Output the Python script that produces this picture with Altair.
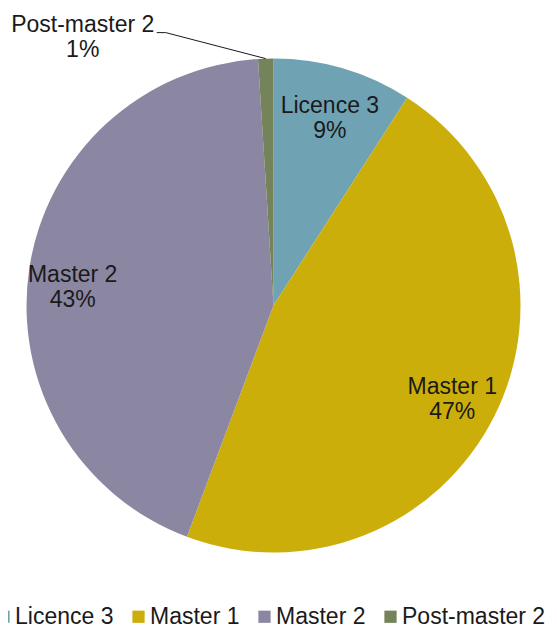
import altair as alt
import pandas as pd
import numpy as np

categories = ["Licence 3", "Master 1", "Master 2", "Post-master 2"]
shares = [9.1, 46.6, 43.3, 1.0]
colors = ["#6FA3B3", "#CCAE0B", "#8B87A2", "#75835B"]

FONT = "Liberation Sans"
W, H = 531, 595
R = 247
FS = 23
LH = 25

df = pd.DataFrame({"category": categories, "share": shares, "order": list(range(len(categories)))})
df["label"] = [f"{c}\n{round(s):.0f}%" for c, s in zip(categories, shares)]

# geometry for the outside label of the smallest slice
cum = np.cumsum(shares)
total = cum[-1]
mid = (cum[-2] + shares[-1] / 2) / total * 2 * np.pi
ox = W / 2 + R * np.sin(mid)
oy = H / 2 - R * np.cos(mid)
ex, ey = ox - 100, oy - 26
lx, ly = ex - 9, ey
lines = pd.DataFrame({"x": [ox, ex], "y": [oy, ey], "x2": [ex, lx], "y2": [ey, ly]})
outlab = pd.DataFrame({"x": [lx - 74], "y": [ly - 8], "label": [df["label"].iloc[-1]]})

color = alt.Color(
    "category:N",
    scale=alt.Scale(domain=categories, range=colors),
    legend=alt.Legend(
        title=None, orient="none", legendX=-16, legendY=597, direction="horizontal",
        symbolType="square", symbolSize=150, symbolStrokeWidth=0,
        labelFontSize=FS, labelFont=FONT, labelColor="#1a1a1a", labelOffset=0,
        columnPadding=13, padding=0, labelLimit=300,
    ),
)

base = alt.Chart(df).encode(
    theta=alt.Theta("share:Q", stack=True),
    order=alt.Order("order:Q"),
)
pie = base.mark_arc(outerRadius=R).encode(color=color)

text_style = dict(fontSize=FS, font=FONT, lineBreak="\n", lineHeight=LH,
                  color="#1a1a1a", align="center", baseline="middle")

inside_a = base.transform_calculate(
    t="(datum.category == 'Licence 3' || datum.category == 'Master 1') ? datum.label : ''"
).mark_text(radius=200, dy=-8, **text_style).encode(text="t:N")
inside_b = base.transform_calculate(
    t="datum.category == 'Master 2' ? datum.label : ''"
).mark_text(radius=200, dy=-1, dx=-3, **text_style).encode(text="t:N")

leader = alt.Chart(lines).mark_rule(color="#1a1a1a", strokeWidth=1).encode(
    x=alt.X("x:Q", scale=None, axis=None),
    y=alt.Y("y:Q", scale=None, axis=None),
    x2="x2:Q",
    y2="y2:Q",
)
outside = alt.Chart(outlab).mark_text(**text_style).encode(
    x=alt.X("x:Q", scale=None, axis=None),
    y=alt.Y("y:Q", scale=None, axis=None),
    text="label:N",
)

chart = alt.layer(pie, inside_a, inside_b, leader, outside).properties(
    width=W, height=H,
    background="white",
    autosize=alt.AutoSizeParams(type="none"),
    padding={"left": 0, "top": 0, "right": 10, "bottom": 25},
).configure_view(strokeWidth=0, stroke="transparent")

chart.save("out.html", embed_options={"renderer": "svg", "actions": False})
